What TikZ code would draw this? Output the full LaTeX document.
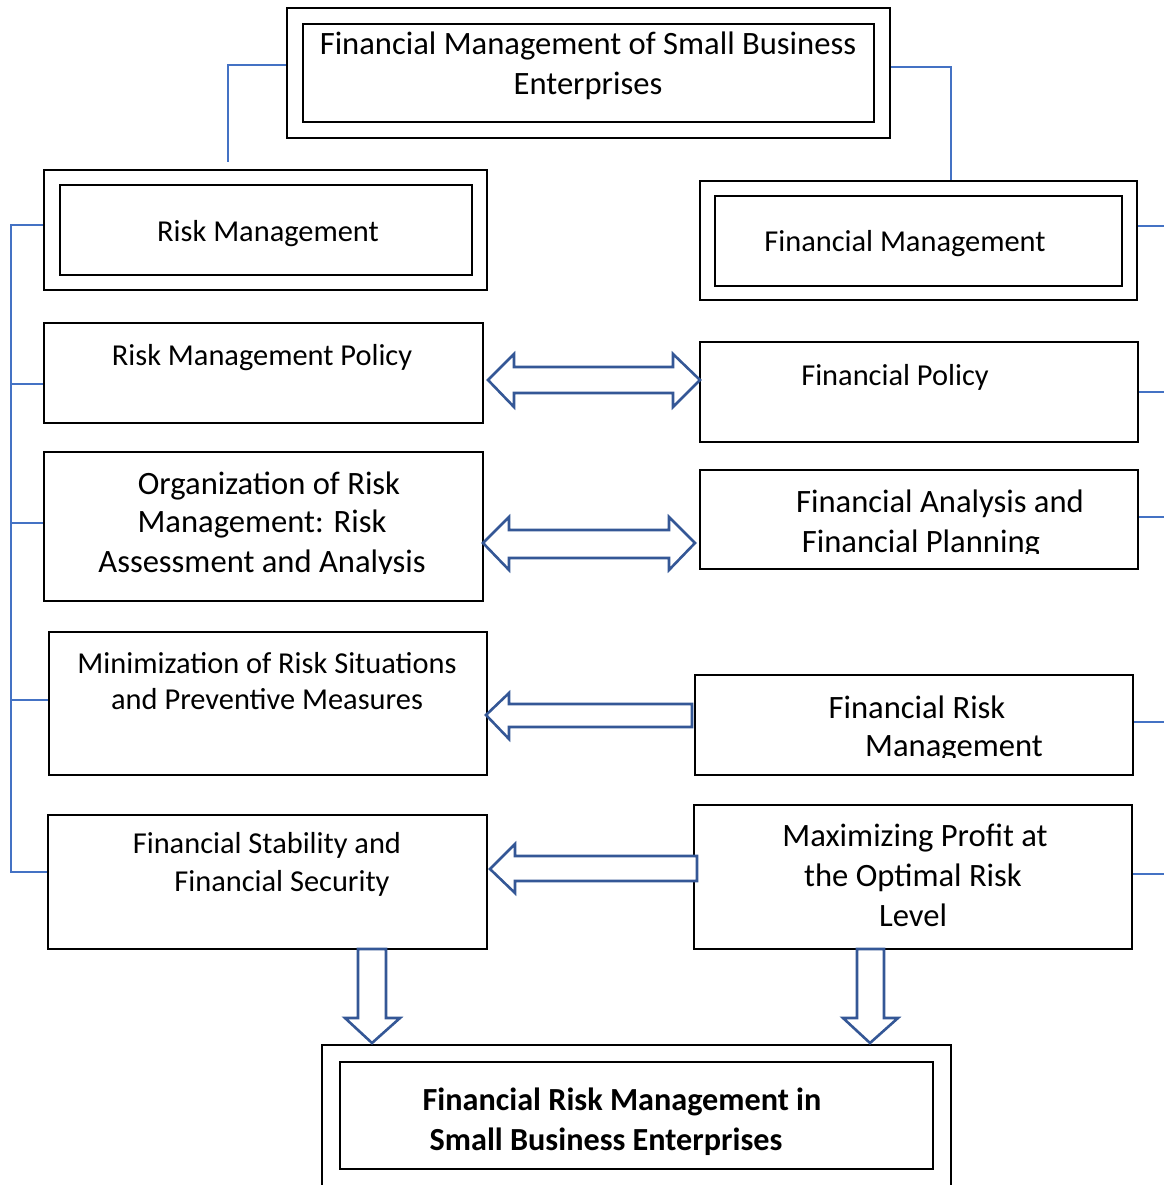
\documentclass[tikz,border=0pt]{standalone}
\usepackage{fontspec}
\setmainfont{Carlito}
\usetikzlibrary{fit}
\definecolor{linkblue}{RGB}{68,114,196}
\definecolor{arrowblue}{RGB}{52,87,150}
\begin{document}
\begin{tikzpicture}[x=1pt,y=-1pt,
  boxframe/.style={draw=black, line width=2.4pt, inner sep=0pt},
  boxtext/.style={anchor=base, inner sep=0pt, font=\fontsize{30.4}{36}\selectfont},
  bigtext/.style={anchor=base, inner sep=0pt, font=\fontsize{32.6}{39}\selectfont},
  boldtext/.style={anchor=base, inner sep=0pt, font=\fontsize{32.2}{39}\selectfont\bfseries},
  linkline/.style={draw=linkblue, line width=1.8pt},
  blockarrow/.style={draw=arrowblue, line width=2.6pt, fill=white, line join=miter}]

\clip (0,0) rectangle (1164,1185);
\path[use as bounding box] (0,0) rectangle (1164,1185);

% ---- frames ----
\node[boxframe, fit={(287,8)(890,138)}] (top) {};
\node[boxframe, fit={(303,24)(874,122)}] (topIn) {};

\node[boxframe, fit={(44,170)(487,290)}] (rm) {};
\node[boxframe, fit={(60,185)(472,275)}] (rmIn) {};

\node[boxframe, fit={(700,181)(1137,300)}] (fm) {};
\node[boxframe, fit={(715,196)(1122,286)}] (fmIn) {};

\node[boxframe, fit={(44,323)(483,423)}] (rmp) {};
\node[boxframe, fit={(700,342)(1138,442)}] (fp) {};
\node[boxframe, fit={(44,452)(483,601)}] (org) {};
\node[boxframe, fit={(700,470)(1138,569)}] (fa) {};
\node[boxframe, fit={(49,632)(487,775)}] (mini) {};
\node[boxframe, fit={(695,675)(1133,775)}] (frm) {};
\node[boxframe, fit={(48,815)(487,949)}] (fs) {};
\node[boxframe, fit={(694,805)(1132,949)}] (mp) {};

\node[boxframe, fit={(322,1045)(951,1200)}] (res) {};
\node[boxframe, fit={(340,1062)(933,1169)}] (resIn) {};

% ---- texts ----
\node[bigtext] (topA) at (588,55) {Financial Management of Small Business};
\node[bigtext] (topB) at (588,95) {Enterprises};

\node[boxtext] (rmT) at (268,241) {Risk Management};
\node[boxtext] (fmT) at (905,251) {Financial Management};
\node[boxtext] (rmpT) at (262,365) {Risk Management Policy};
\node[boxtext] (fpT) at (895,385) {Financial Policy};

\begin{scope}
  \clip (44,452) rectangle (483,573);
  \node[bigtext] (orgA) at (269,494) {Organization of Risk};
  \node[bigtext] (orgB) at (262,532) {Management: Risk};
  \node[bigtext] (orgC) at (262,572) {Assessment and Analysis};
\end{scope}

\begin{scope}
  \clip (700,470) rectangle (1138,553);
  \node[bigtext] (faA) at (940,512) {Financial Analysis and};
  \node[bigtext] (faB) at (921,552) {Financial Planning};
\end{scope}

\node[boxtext] (miniA) at (267,673) {Minimization of Risk Situations};
\node[boxtext] (miniB) at (267,709) {and Preventive Measures};

\begin{scope}
  \clip (695,675) rectangle (1133,757);
  \node[bigtext] (frmA) at (917,718) {Financial Risk};
  \node[bigtext] (frmB) at (954,756) {Management};
\end{scope}

\node[boxtext] (fsA) at (267,853) {Financial Stability and};
\node[boxtext] (fsB) at (282,891) {Financial Security};

\node[bigtext] (mpA) at (915,846) {Maximizing Profit at};
\node[bigtext] (mpB) at (913,886) {the Optimal Risk};
\node[bigtext] (mpC) at (913,926) {Level};

\node[boldtext] (resA) at (622,1110) {Financial Risk Management in};
\node[boldtext] (resB) at (606,1150) {Small Business Enterprises};

% ---- thin connectors ----
\coordinate (tl) at (228,65);
\coordinate (tlEnd) at (228,162);
\draw[linkline] (top.west |- tl) -- (tl) -- (tlEnd);

\coordinate (tr) at (951,67);
\draw[linkline] (top.east |- tr) -- (tr) -- (fm.north -| tr);

% left bus
\coordinate (bus1) at (11,225);
\coordinate (bus2) at (11,384);
\coordinate (bus3) at (11,523);
\coordinate (bus4) at (11,700);
\coordinate (bus5) at (11,872);
\draw[linkline] (rm.west |- bus1) -- (bus1) -- (bus5) -- (fs.west |- bus5);
\draw[linkline] (bus2) -- (rmp.west |- bus2);
\draw[linkline] (bus3) -- (org.west |- bus3);
\draw[linkline] (bus4) -- (mini.west |- bus4);

% right stubs
\coordinate (edge1) at (1164,226);
\coordinate (edge2) at (1164,392);
\coordinate (edge3) at (1164,517);
\coordinate (edge4) at (1164,722);
\coordinate (edge5) at (1164,874);
\draw[linkline] (fm.east |- edge1) -- (edge1);
\draw[linkline] (fp.east |- edge2) -- (edge2);
\draw[linkline] (fa.east |- edge3) -- (edge3);
\draw[linkline] (frm.east |- edge4) -- (edge4);
\draw[linkline] (mp.east |- edge5) -- (edge5);

% ---- block arrows ----
% policy <-> policy
\draw[blockarrow] (488,380) -- (514,354) -- (514,367) -- (673,367) -- (673,354)
  -- (700,380) -- (673,407) -- (673,393) -- (514,393) -- (514,407) -- cycle;
% organization <-> analysis
\draw[blockarrow] (483,543) -- (509,517) -- (509,530) -- (669,530) -- (669,517)
  -- (695,543) -- (669,570) -- (669,558) -- (509,558) -- (509,570) -- cycle;
% financial risk management -> minimization
\draw[blockarrow] (486,715) -- (509,693) -- (509,704) -- (692,704) -- (692,727)
  -- (509,727) -- (509,739) -- cycle;
% maximizing profit -> stability
\draw[blockarrow] (490,869) -- (515,844) -- (515,856) -- (697,856) -- (697,881)
  -- (515,881) -- (515,893) -- cycle;
% down into the result box
\draw[blockarrow] (358,949) -- (386,949) -- (386,1018) -- (400,1018) -- (372,1043)
  -- (345,1018) -- (358,1018) -- cycle;
\draw[blockarrow] (857,949) -- (884,949) -- (884,1018) -- (898,1018) -- (870,1043)
  -- (843,1018) -- (857,1018) -- cycle;

\end{tikzpicture}
\end{document}
